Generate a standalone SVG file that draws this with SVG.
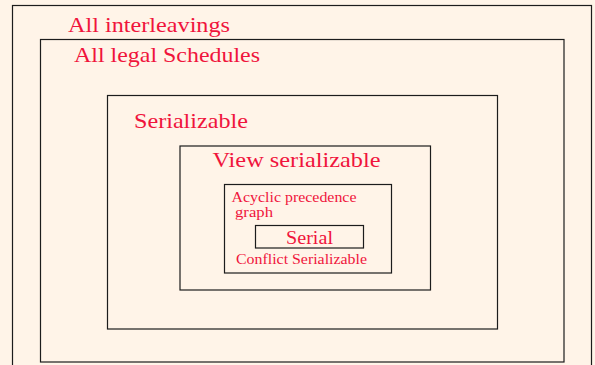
<svg xmlns="http://www.w3.org/2000/svg" width="595" height="365" viewBox="0 0 595 365">
  <style>
    .set { fill: none; stroke: #1c1c1c; stroke-width: 1.2; }
    .lbl { fill: #f0143c; font-family: "Liberation Serif", "DejaVu Serif", serif; }
  </style>
  <rect x="0" y="0" width="595" height="365" fill="#fff4e8"/>

  <g id="all-interleavings">
    <rect class="set" x="12.5" y="5.5" width="579" height="370"/>
    <text class="lbl" x="68" y="32.3" font-size="22" textLength="162" lengthAdjust="spacingAndGlyphs">All interleavings</text>
  </g>

  <g id="all-legal-schedules">
    <rect class="set" x="40.5" y="39.5" width="523.5" height="322.5"/>
    <text class="lbl" x="74" y="61.5" font-size="22" textLength="186" lengthAdjust="spacingAndGlyphs">All legal Schedules</text>
  </g>

  <g id="serializable">
    <rect class="set" x="107.5" y="95.5" width="390" height="233.5"/>
    <text class="lbl" x="134" y="128.3" font-size="22" textLength="114" lengthAdjust="spacingAndGlyphs">Serializable</text>
  </g>

  <g id="view-serializable">
    <rect class="set" x="180" y="146" width="250.5" height="144"/>
    <text class="lbl" x="212.5" y="166.7" font-size="21" textLength="168" lengthAdjust="spacingAndGlyphs">View serializable</text>
  </g>

  <g id="conflict-serializable">
    <rect class="set" x="224.5" y="184.5" width="167" height="88.5"/>
    <text class="lbl" x="231.5" y="201.7" font-size="14" textLength="125" lengthAdjust="spacingAndGlyphs">Acyclic precedence</text>
    <text class="lbl" x="235" y="217" font-size="14" textLength="38" lengthAdjust="spacingAndGlyphs">graph</text>
    <text class="lbl" x="236" y="264" font-size="14" textLength="131" lengthAdjust="spacingAndGlyphs">Conflict Serializable</text>
  </g>

  <g id="serial">
    <rect class="set" x="255.5" y="225.5" width="108" height="22.5"/>
    <text class="lbl" x="286" y="244.3" font-size="18.5" textLength="47" lengthAdjust="spacingAndGlyphs">Serial</text>
  </g>

  <g id="connectors"/>
</svg>
